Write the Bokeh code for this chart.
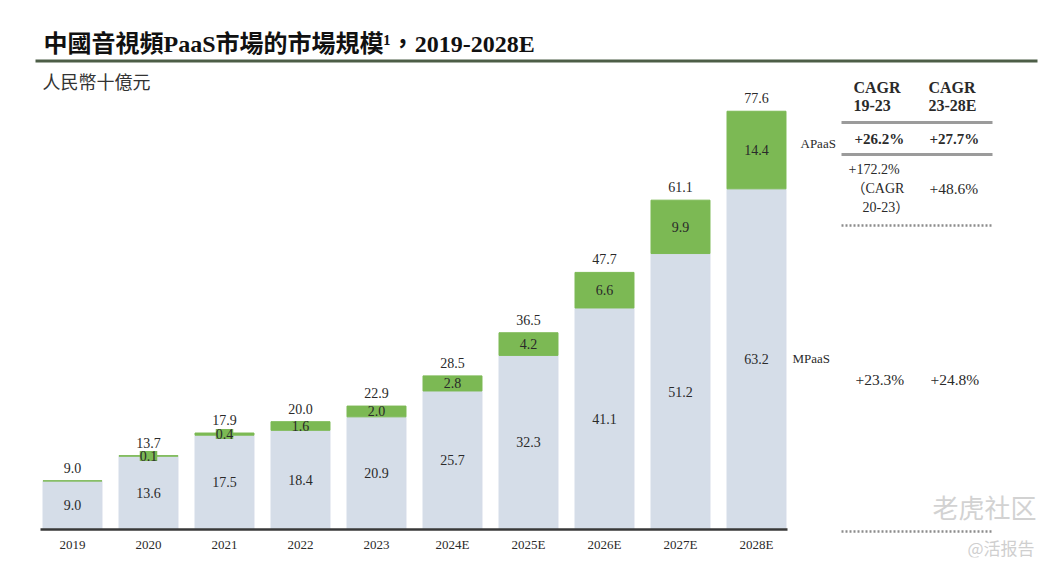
from bokeh.plotting import figure
from bokeh.models import ColumnDataSource, Range1d, Label, BoxAnnotation, FixedTicker
from bokeh.core.properties import value
from bokeh.embed import file_html
from bokeh.resources import INLINE

# ---------------- data ----------------
years = ["2019", "2020", "2021", "2022", "2023", "2024E", "2025E", "2026E", "2027E", "2028E"]
mpaas = [9.0, 13.6, 17.5, 18.4, 20.9, 25.7, 32.3, 41.1, 51.2, 63.2]
apaas = [0.03, 0.1, 0.4, 1.6, 2.0, 2.8, 4.2, 6.6, 9.9, 14.4]
totals = [9.0, 13.7, 17.9, 20.0, 22.9, 28.5, 36.5, 47.7, 61.1, 77.6]
apaas_labels = ["", "0.1", "0.4", "1.6", "2.0", "2.8", "4.2", "6.6", "9.9", "14.4"]

title_text = "中國音視頻PaaS市場的市場規模¹，2019-2028E"
unit_text = "人民幣十億元"
cagr_head_1 = ["CAGR", "19-23"]
cagr_head_2 = ["CAGR", "23-28E"]
apaas_cagr = ["+26.2%", "+27.7%"]
apaas_cagr_note = ["+172.2%", "（CAGR", "20-23）"]
apaas_cagr_2 = "+48.6%"
mpaas_cagr = ["+23.3%", "+24.8%"]
watermark = ["老虎社区", "@活报告"]

# ---------------- style / layout ----------------
SERIF = "Liberation Serif, Noto Sans CJK TC"
CJK = "Noto Sans CJK TC"
BLUE = "#d5dde8"
GREEN = "#7cb954"
TXT = "#2a2a2a"

W, H = 1041, 573
PXX = 76.0            # px per category
FIRST_C = 72.0        # page x of first category centre
PXY = 5.39            # px per unit
BASE = 529.0          # page y of value 0
FRAME_B = 557.0       # page y of frame bottom


def sx(X):  # page-pixel x -> data x
    return (X - FIRST_C) / PXX


def sy(Y):  # page-pixel y -> data y
    return (BASE - Y) / PXY


xpos = list(range(len(years)))
m_mid = [m / 2 for m in mpaas]
a_mid = [m + a / 2 for m, a in zip(mpaas, apaas)]
a_bg = [1.0 if a < 1.8 and lbl else 0.0 for a, lbl in zip(apaas, apaas_labels)]

src = ColumnDataSource(dict(
    x=xpos, year=years, mpaas=mpaas, apaas=apaas, total=totals,
    total_lbl=[f"{t:.1f}" for t in totals],
    m_lbl=[f"{m:.1f}" for m in mpaas],
    a_lbl=apaas_labels, m_mid=m_mid, a_mid=a_mid, a_bg=a_bg,
))

p = figure(width=W, height=H,
           x_range=Range1d(sx(0), sx(W)), y_range=Range1d(sy(FRAME_B), sy(0)),
           output_backend="svg", toolbar_location=None, title=None,
           y_axis_location=None,
           min_border_left=0, min_border_right=0,
           min_border_top=0, min_border_bottom=int(H - FRAME_B))
p.outline_line_color = None
p.grid.visible = False
p.background_fill_color = "white"
p.border_fill_color = "white"

p.vbar_stack(["mpaas", "apaas"], x="x", width=0.776, color=[BLUE, GREEN],
             line_width=1, source=src)

common = dict(text_align="center", text_baseline="middle", text_font=value(SERIF),
              text_font_size="14px", text_color=TXT, source=src)
p.text(x="x", y="total", text="total_lbl", y_offset=-13, **common)
p.text(x="x", y="m_mid", text="m_lbl", **common)
p.text(x="x", y="a_mid", text="a_lbl", background_fill_color=GREEN,
       background_fill_alpha="a_bg", **common)

ax = p.xaxis[0]
ax.ticker = FixedTicker(ticks=xpos)
ax.major_label_overrides = {i: y for i, y in zip(xpos, years)}
ax.axis_line_color = None
ax.major_tick_line_color = None
ax.minor_tick_line_color = None
ax.major_tick_out = 0
ax.major_tick_in = 0
ax.major_label_standoff = -21
ax.major_label_text_font = SERIF
ax.major_label_text_font_size = "13px"
ax.major_label_text_color = TXT


def lab(X, Y, text, size="15px", style="normal", font=SERIF, color=TXT, align="left"):
    p.add_layout(Label(x=sx(X), y=sy(Y), text=text, text_font=font, text_font_size=size,
                       text_font_style=style, text_color=color, text_align=align,
                       text_baseline="middle"))


def hline(X0, X1, Y, color, width, dash="solid"):
    p.add_layout(BoxAnnotation(left=sx(X0), right=sx(X1), top=sy(Y), bottom=sy(Y),
                               fill_alpha=0, line_color=color, line_alpha=1.0,
                               line_width=width, line_dash=dash))


# baseline of the bars
p.add_layout(BoxAnnotation(left=sx(40), right=sx(787), top=sy(BASE - 1.3), bottom=sy(BASE + 1.3),
                           fill_color="#383838", fill_alpha=1, line_alpha=0))

# title & unit
lab(43, 43, title_text, size="24px", style="bold", color="#111111")
hline(35, 1037, 60.5, "#4d5e47", 3)
lab(42, 80, unit_text, size="18px", font=CJK, color="#333333")

# series labels
lab(800, 143, "APaaS", size="13px")
lab(792, 358, "MPaaS", size="13px")

# CAGR table
lab(853, 87, cagr_head_1[0], size="16px", style="bold")
lab(853, 105, cagr_head_1[1], size="16px", style="bold")
lab(928, 87, cagr_head_2[0], size="16px", style="bold")
lab(928, 105, cagr_head_2[1], size="16px", style="bold")
hline(841, 992, 122, "#9b9b9b", 3)
lab(854, 138, apaas_cagr[0], size="15px", style="bold")
lab(929, 138, apaas_cagr[1], size="15px", style="bold")
hline(841, 992, 154, "#9b9b9b", 3)
lab(848, 169, apaas_cagr_note[0], size="14px")
lab(851, 188, apaas_cagr_note[1], size="14px")
lab(862, 207, apaas_cagr_note[2], size="14px")
lab(929, 188, apaas_cagr_2, size="15.5px")
hline(841, 992, 225, "#8c8c8c", 2.5, "2 2")
lab(855, 379, mpaas_cagr[0], size="15.5px")
lab(930, 379, mpaas_cagr[1], size="15.5px")
hline(841, 992, 531, "#8c8c8c", 2.5, "2 2")

# watermark
lab(932, 506, watermark[0], size="26px", font="Noto Sans CJK SC", color="#d2d2d2")
lab(967, 547, watermark[1], size="17px", font="Noto Sans CJK SC", color="#cfcfcf")

open("out.html", "w").write(file_html(p, INLINE))
